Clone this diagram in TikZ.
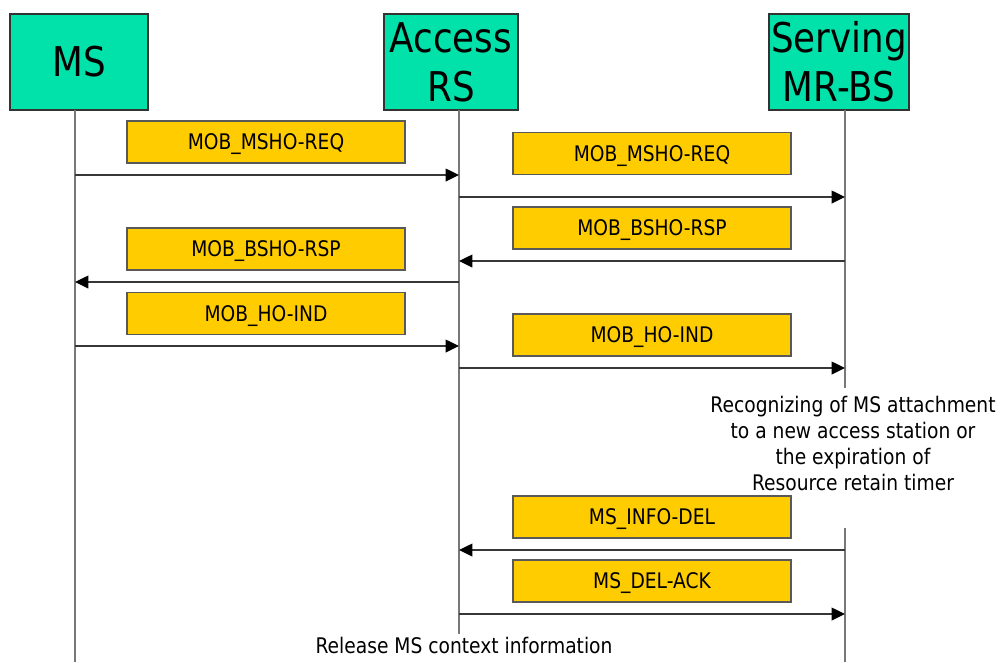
\documentclass[tikz,border=0pt]{standalone}
\usepackage{fontspec}
\setmainfont{DejaVu Sans}[FakeStretch=0.87]
\usetikzlibrary{arrows.meta}
\definecolor{hdrfill}{RGB}{0,226,170}
\definecolor{msgfill}{RGB}{255,204,0}
\definecolor{lifegray}{RGB}{120,120,120}
\definecolor{arrgray}{RGB}{55,55,55}
\tikzset{
  hdr/.style={draw=black!80, line width=1pt, fill=hdrfill, inner sep=0pt, align=center,
    font=\fontsize{30.75}{36.75}\selectfont},
  msgbox/.style={draw=black!65, line width=0.9pt, fill=msgfill, inner sep=0pt,
    minimum width=208.5pt, minimum height=31.5pt, text height=11.8pt, text depth=0pt,
    font=\fontsize{16.1}{19}\selectfont},
  lifeline/.style={draw=lifegray, line width=1.1pt},
  msgarrow/.style={draw=arrgray, line width=1.1pt,
    -{Triangle[length=10pt, width=9.5pt, color=black, fill=black]}},
  note/.style={inner sep=0pt, align=center, font=\fontsize{16.1}{19.3}\selectfont}
}
\begin{document}
\begin{tikzpicture}[x=0.75pt, y=-0.75pt]
\useasboundingbox (0,0) rectangle (1000,662);
% headers
\node[hdr, minimum width=103.5pt, minimum height=72pt] (ms) at (79,62) {MS};
\node[hdr, minimum width=100.5pt, minimum height=72pt] (ar) at (451,62) {Access\\RS};
\node[hdr, minimum width=105pt, minimum height=72pt] (sb) at (839,62) {Serving\\MR-BS};
% lifeline coordinates
\coordinate (msT) at (75,110);  \coordinate (msB) at (75,662);
\coordinate (arT) at (459,110); \coordinate (arB) at (459,634);
\coordinate (sbT) at (845,110); \coordinate (sbM1) at (845,388);
\coordinate (sbM2) at (845,528); \coordinate (sbB) at (845,662);
\draw[lifeline] (msT) -- (msB);
\draw[lifeline] (arT) -- (arB);
\draw[lifeline] (sbT) -- (sbM1);
\draw[lifeline] (sbM2) -- (sbB);
% message boxes
\node[msgbox] (l1) at (266,142) {MOB\_MSHO-REQ};
\node[msgbox] (l2) at (266,249) {MOB\_BSHO-RSP};
\node[msgbox] (l3) at (266,313.5) {MOB\_HO-IND};
\node[msgbox] (r1) at (652,153.5) {MOB\_MSHO-REQ};
\node[msgbox] (r2) at (652,228) {MOB\_BSHO-RSP};
\node[msgbox] (r3) at (652,335) {MOB\_HO-IND};
\node[msgbox] (r4) at (652,517) {MS\_INFO-DEL};
\node[msgbox] (r5) at (652,581) {MS\_DEL-ACK};
% arrow end points on lifelines
\coordinate (a1s) at (75,175);  \coordinate (a1e) at (459,175);
\coordinate (a2s) at (459,197); \coordinate (a2e) at (845,197);
\coordinate (a3s) at (845,261); \coordinate (a3e) at (459,261);
\coordinate (a4s) at (459,282); \coordinate (a4e) at (75,282);
\coordinate (a5s) at (75,346);  \coordinate (a5e) at (459,346);
\coordinate (a6s) at (459,368); \coordinate (a6e) at (845,368);
\coordinate (a7s) at (845,550); \coordinate (a7e) at (459,550);
\coordinate (a8s) at (459,614); \coordinate (a8e) at (845,614);
\draw[msgarrow] (a1s) -- (a1e);
\draw[msgarrow] (a2s) -- (a2e);
\draw[msgarrow] (a3s) -- (a3e);
\draw[msgarrow] (a4s) -- (a4e);
\draw[msgarrow] (a5s) -- (a5e);
\draw[msgarrow] (a6s) -- (a6e);
\draw[msgarrow] (a7s) -- (a7e);
\draw[msgarrow] (a8s) -- (a8e);
% notes
\node[note] (n1) at (853,443.5) {Recognizing of MS attachment\\to a new access station or\\the expiration of\\Resource retain timer};
\node[note, anchor=base] (n2) at (464,653) {Release MS context information};
\end{tikzpicture}
\end{document}
